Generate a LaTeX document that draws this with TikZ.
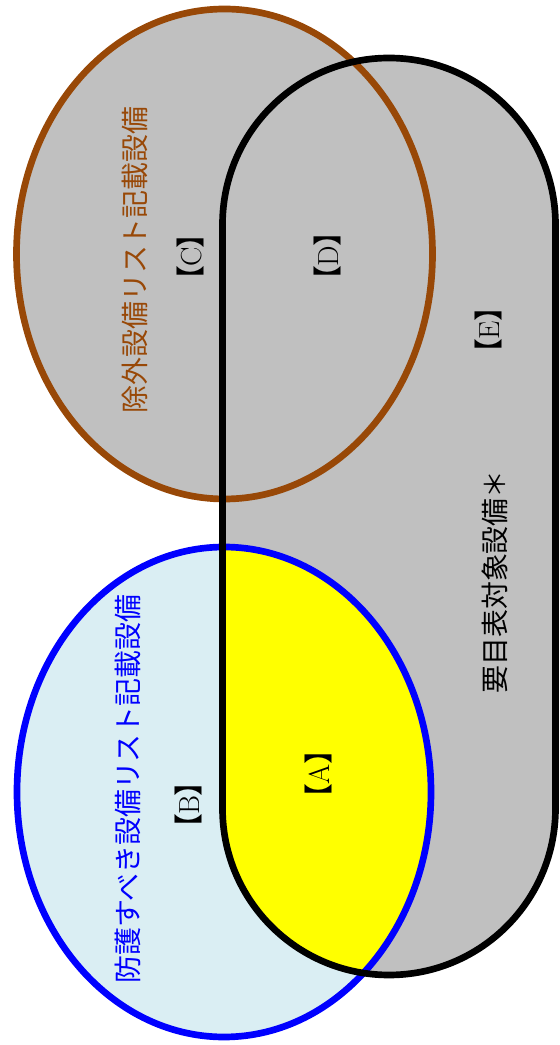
\documentclass[tikz,border=0pt]{standalone}
\usepackage{fontspec}
\usepackage{tikz}
\newfontfamily\jpfont{Noto Sans CJK JP}
\newfontfamily\jpbracket[RawFeature=+palt]{Noto Sans CJK JP}
\definecolor{silvergray}{HTML}{C0C0C0}
\definecolor{paleblue}{HTML}{DAEEF3}
\definecolor{darkbrown}{HTML}{984807}
\definecolor{brightyellow}{HTML}{FFFF00}
\definecolor{pureblue}{HTML}{0000FF}
\newcommand{\tagtext}[1]{{\jpbracket 【}#1{\jpbracket 】}}
\tikzset{
	brownstyle/.style={rotate=90,text=darkbrown,font=\jpfont\fontsize{15.9pt}{18pt}\selectfont},
	bluestyle/.style={rotate=90,text=pureblue,font=\jpfont\fontsize{15.9pt}{18pt}\selectfont},
	blackstyle/.style={rotate=90,text=black,font=\jpfont\fontsize{15.9pt}{18pt}\selectfont},
	tagstyle/.style={rotate=90,text=black,font=\fontsize{16.5pt}{18pt}\selectfont},
	outline/.style={line width=3.8pt}
}
\def\stadium{(222.5,236.5) -- (222.5,820.5) arc[start angle=180,end angle=0,radius=166.5] -- (555.5,236.5) arc[start angle=0,end angle=-180,radius=166.5] -- cycle}

\begin{document}
\begin{tikzpicture}[x=0.02cm,y=0.02cm]
		\useasboundingbox (0,0) rectangle (559,1045);
		\fill[silvergray] \stadium;
		\fill[paleblue] (224,253) ellipse[x radius=207,y radius=245];
		\begin{scope}
			\clip \stadium;
			\fill[brightyellow] (224,253) ellipse[x radius=207,y radius=245];
		\end{scope}
		\filldraw[fill=silvergray,draw=darkbrown,outline] (224.5,791) ellipse[x radius=208,y radius=245];
		\draw[pureblue,outline] (224,253) ellipse[x radius=207,y radius=245];
		\draw[black,outline] \stadium;
		\node[brownstyle] (excl) at (135,785) {除外設備リスト記載設備};
		\node[bluestyle] (prot) at (128,256) {防護すべき設備リスト記載設備};
		\node[blackstyle] (spec) at (495,463) {要目表対象設備＊};
		\node[tagstyle] (c) at (190,788) {\tagtext{C}};
		\node[tagstyle] (d) at (327,789) {\tagtext{D}};
		\node[tagstyle] (e) at (488,715) {\tagtext{E}};
		\node[tagstyle] (b) at (188,240) {\tagtext{B}};
		\node[tagstyle] (a) at (318,271) {\tagtext{A}};
		\end{tikzpicture}
\end{document}
